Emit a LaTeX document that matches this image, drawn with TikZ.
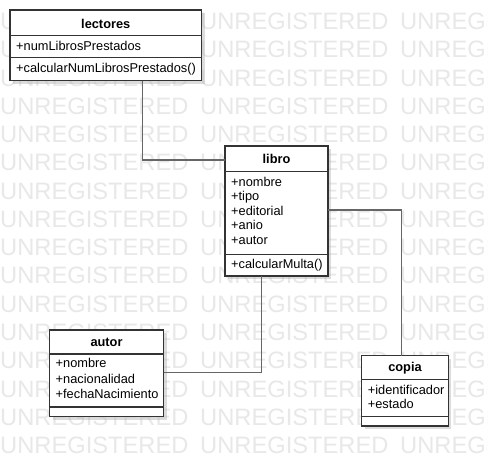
\documentclass[tikz,border=0pt]{standalone}
\usepackage{fontspec}
\setmainfont{Liberation Sans}
\usetikzlibrary{positioning,shadows}

\tikzset{
  classbox/.style={draw=black!80, line width=1.3pt, fill=white, rectangle,
    inner sep=0pt, outer sep=0pt, anchor=north west,
    drop shadow={shadow xshift=3pt, shadow yshift=-3pt, fill=black!30, opacity=0.45}},
  classname/.style={font=\bfseries\fontsize{12.8}{15}\selectfont, inner sep=0pt, anchor=base},
  member/.style={font=\fontsize{12.8}{15}\selectfont, inner sep=0pt, anchor=base west},
  divider/.style={draw=black!80, line width=1.3pt},
  assoc/.style={draw=black!60, line width=1.5pt},
  watermark/.style={font=\fontsize{23.7}{24}\selectfont, text=black!9, inner sep=0pt, anchor=base west}
}

\begin{document}
\begin{tikzpicture}[x=1pt,y=-1pt]
\useasboundingbox (0,0) rectangle (488,466);
\fill[white] (0,0) rectangle (488,466);

% watermark
\begin{scope}
\clip (0,0) rectangle (488,466);
\foreach \r in {0,...,15}
  \foreach \c [count=\k] in {0,200,400}
    \node[watermark] (wm-\r-\k) at (\c,29.5+28.27*\r) {UNREGISTERED};
\end{scope}

% lectores
\node[classbox, minimum width=191.5pt, minimum height=70.5pt] (lectores) at (10,10) {};
\draw[divider] (lectores.north west) ++(0,25.5) -- ++(191.5,0);
\draw[divider] (lectores.north west) ++(0,47.5) -- ++(191.5,0);
\node[classname] (lectores-name) at (105.75,28.3) {lectores};
\node[member] (lectores-a1) at (16,50) {+numLibrosPrestados};
\node[member] (lectores-m1) at (16,72) {+calcularNumLibrosPrestados()};

% libro
\node[classbox, minimum width=103pt, minimum height=130pt] (libro) at (225,146) {};
\draw[divider] (libro.north west) ++(0,25.7) -- ++(103,0);
\draw[divider] (libro.north west) ++(0,108.7) -- ++(103,0);
\node[classname] (libro-name) at (276.5,163) {libro};
\foreach \a [count=\i] in {nombre,tipo,editorial,anio,autor}
  \node[member] (libro-a\i) at (231,186+14.6*\i-14.6) {+\a};
\node[member] (libro-m1) at (231,268.5) {+calcularMulta()};

% autor
\node[classbox, minimum width=114pt, minimum height=86.5pt] (autor) at (49.5,330) {};
\draw[divider] (autor.north west) ++(0,24) -- ++(114,0);
\draw[divider] (autor.north west) ++(0,77) -- ++(114,0);
\node[classname] (autor-name) at (106.5,346.7) {autor};
\foreach \a [count=\i] in {nombre,nacionalidad,fechaNacimiento}
  \node[member] (autor-a\i) at (55.5,367.7+15.3*\i-15.3) {+\a};

% copia
\node[classbox, minimum width=86.6pt, minimum height=70.5pt] (copia) at (361.7,355.5) {};
\draw[divider] (copia.north west) ++(0,23.8) -- ++(86.6,0);
\draw[divider] (copia.north west) ++(0,61.2) -- ++(86.6,0);
\node[classname] (copia-name) at (405,371.7) {copia};
\foreach \a [count=\i] in {identificador,estado}
  \node[member] (copia-a\i) at (367.7,394.5+13.5*\i-13.5) {+\a};

% associations
\coordinate (bend1) at (142.3,160);
\coordinate (bend2) at (401.7,210);
\coordinate (bend3) at (261.7,372.7);
\draw[assoc] (bend1 |- lectores.south) -- (bend1) -- (bend1 -| libro.west);
\draw[assoc] (bend2 -| libro.east) -- (bend2) -- (bend2 |- copia.north);
\draw[assoc] (bend3 |- libro.south) -- (bend3) -- (bend3 -| autor.east);
\end{tikzpicture}
\end{document}
